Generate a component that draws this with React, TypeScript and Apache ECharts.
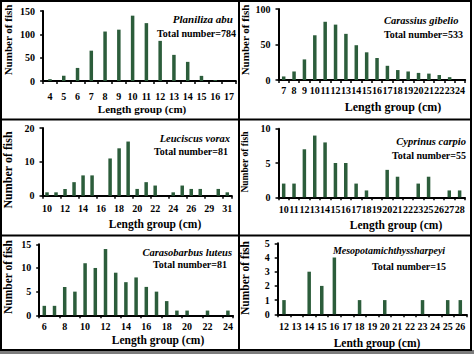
import React, { useEffect, useRef } from "react";
import * as echarts from "echarts";

const p1Cats = ["4", "5", "6", "7", "8", "9", "10", "11", "12", "13", "14", "15", "16", "17"];
const p1Vals = [4, 11, 28, 65, 106, 110, 140, 124, 86, 56, 41, 11, 2, 0];

const p2Cats = ["7", "8", "9", "10", "11", "12", "13", "14", "15", "16", "17", "18", "19", "20", "21", "22", "23", "24"];
const p2Vals = [5, 12, 29, 63, 82, 78, 65, 49, 39, 31, 20, 14, 12, 10, 9, 7, 4, 0];

const p3Cats = ["10", "11", "12", "13", "14", "15", "16", "17", "18", "19", "20", "21", "22", "23", "24", "25", "26", "27", "29", "30", "31"];
const p3Vals = [1, 1, 2, 4, 6, 6, 0, 11, 14, 16, 2, 4, 3, 0, 1, 3, 2, 2, 0, 2, 1];

const p4Cats = ["10", "11", "12", "13", "14", "15", "16", "17", "18", "19", "20", "21", "22", "23", "25", "26", "27", "28"];
const p4Vals = [2, 2, 7, 9, 8, 5, 5, 2, 1, 0, 4, 3, 0, 2, 3, 0, 1, 1];

const p5Cats = ["6", "7", "8", "9", "10", "11", "12", "13", "14", "15", "16", "17", "18", "19", "20", "21", "22", "23", "24"];
const p5Vals = [2, 2, 6, 5, 11, 10, 14, 9, 7, 8, 6, 5, 3, 1, 1, 0, 1, 0, 1];

const p6Cats = ["12", "13", "14", "15", "16", "17", "18", "19", "20", "21", "22", "23", "24", "25", "26"];
const p6Vals = [1, 0, 3, 2, 4, 0, 1, 0, 1, 0, 0, 1, 0, 1, 1];

const species = ["Planiliza abu", "Carassius gibelio", "Leuciscus vorax", "Cyprinus carpio", "Carasobarbus luteus", "Mesopotamichthyssharpeyi"];
const totals = ["Total number=784", "Total number=533", "Total number=81", "Total number=55", "Total number=81", "Total number=15"];
const xTitles = ["Length group (cm)", "Length group (cm)", "Length group (cm)", "Length group (cm)", "Length group (cm)", "Lenth group (cm)"];
const yTitle = "Number of fish";
const yMax = [150, 100, 20, 10, 15, 5];
const yStep = [50, 50, 10, 5, 5, 1];

const FF = "'Liberation Serif', 'Times New Roman', serif";
const BAR = "#2c5d3b";

export default function App() {
  const ref = useRef<HTMLDivElement>(null);
  useEffect(() => {
    if (!ref.current) return;
    const chart = echarts.init(ref.current, undefined, { renderer: "svg" });
    const cats = [p1Cats, p2Cats, p3Cats, p4Cats, p5Cats, p6Cats];
    const vals = [p1Vals, p2Vals, p3Vals, p4Vals, p5Vals, p6Vals];
    const grids = [
      { left: 43.1, top: 11, width: 192.8, height: 70 },
      { left: 278.5, top: 9, width: 186.7, height: 71 },
      { left: 42.5, top: 128, width: 189.3, height: 67.7 },
      { left: 278.5, top: 128.7, width: 186.3, height: 68.6 },
      { left: 39.2, top: 244.3, width: 193.8, height: 71 },
      { left: 277.7, top: 243.3, width: 188.9, height: 71 },
    ];
    const labelInterval = [0, 0, 1, 0, 1, 0];
    const labelMargin = [10, 5, 8, 7, 6, 7];
    const xAxis = cats.map((c, i) => ({
      type: "category",
      gridIndex: i,
      data: c,
      axisLine: { lineStyle: { color: "#000", width: 2 } },
      axisTick: { show: true, length: 3, lineStyle: { color: "#000", width: 1.5 } },
      axisLabel: { interval: labelInterval[i], margin: labelMargin[i], color: "#000", fontFamily: FF, fontWeight: "bold", fontSize: 10, hideOverlap: false },
      splitLine: { show: false },
    }));
    const yAxis = cats.map((_, i) => ({
      type: "value",
      gridIndex: i,
      min: 0,
      max: yMax[i],
      interval: yStep[i],
      axisLine: { show: true, lineStyle: { color: "#000", width: 2 } },
      axisTick: { show: true, length: 3, lineStyle: { color: "#000", width: 1.5 } },
      axisLabel: { margin: 8, color: "#000", fontFamily: FF, fontWeight: "bold", fontSize: 10 },
      splitLine: { show: false },
    }));
    const series = vals.map((v, i) => ({
      type: "bar",
      xAxisIndex: i,
      yAxisIndex: i,
      data: v,
      barWidth: 3.5,
      itemStyle: { color: BAR },
    }));

    const txt = (text: string, x: number, y: number, size: number, align: string, italic = false, rot = 0) => ({
      type: "text",
      x,
      y,
      rotation: rot,
      style: {
        text,
        x: 0,
        y: 0,
        fill: "#000",
        font: `${italic ? "italic " : ""}bold ${size}px ${FF}`,
        textAlign: align,
        textVerticalAlign: "middle",
      },
      z: 10,
    });

    const spPos = [
      [233, 19, "right"], [384, 20, "left"], [230, 138, "right"], [466, 141, "right"], [232, 252, "right"], [389, 250, "center"],
    ];
    const totPos = [
      [236, 33, "right"], [384, 34, "left"], [228, 151, "right"], [466, 155, "right"], [227, 264.5, "right"], [409, 266, "center"],
    ];
    const spSize = [11, 10.5, 10.5, 10.5, 10.5, 10];
    const xtPos = [[142, 109], [393, 107], [155, 224], [396, 225], [158, 340], [377, 342.5]];
    const xtSize = [11, 12, 11.5, 11.5, 11.5, 11.5];
    const ytPos = [[8, 40], [245, 40], [8, 170], [245, 162], [8, 277], [245, 278]];
    const ytSize = [11, 11, 12, 9.5, 11.5, 11.5];

    const graphic: any[] = [];
    for (let i = 0; i < 6; i++) {
      graphic.push(txt(species[i], spPos[i][0] as number, spPos[i][1] as number, spSize[i], spPos[i][2] as string, true));
      graphic.push(txt(totals[i], totPos[i][0] as number, totPos[i][1] as number, 10, totPos[i][2] as string));
      graphic.push(txt(xTitles[i], xtPos[i][0], xtPos[i][1], xtSize[i], "center"));
      graphic.push(txt(yTitle, ytPos[i][0], ytPos[i][1], ytSize[i], "center", false, Math.PI / 2));
    }
    graphic.push({ type: "rect", shape: { x: 0, y: 350, width: 474, height: 4 }, style: { fill: "#7d7d7d" }, z: 5 });
    graphic.push({ type: "rect", shape: { x: 1, y: 1, width: 470, height: 349 }, style: { fill: "none", stroke: "#000", lineWidth: 2 }, z: 6 });
    graphic.push({ type: "line", shape: { x1: 239, y1: 0, x2: 239, y2: 350 }, style: { stroke: "#000", lineWidth: 2 }, z: 6 });
    graphic.push({ type: "line", shape: { x1: 0, y1: 119.5, x2: 471, y2: 119.5 }, style: { stroke: "#000", lineWidth: 2 }, z: 6 });
    graphic.push({ type: "line", shape: { x1: 0, y1: 235.5, x2: 471, y2: 235.5 }, style: { stroke: "#000", lineWidth: 2 }, z: 6 });

    chart.setOption({
      animation: false,
      backgroundColor: "#fff",
      grid: grids,
      xAxis,
      yAxis,
      series,
      graphic,
    } as any);
    return () => chart.dispose();
  }, []);
  return <div ref={ref} style={{ position: "absolute", left: 0, top: 0, width: 474, height: 354, background: "#fff" }} />;
}
